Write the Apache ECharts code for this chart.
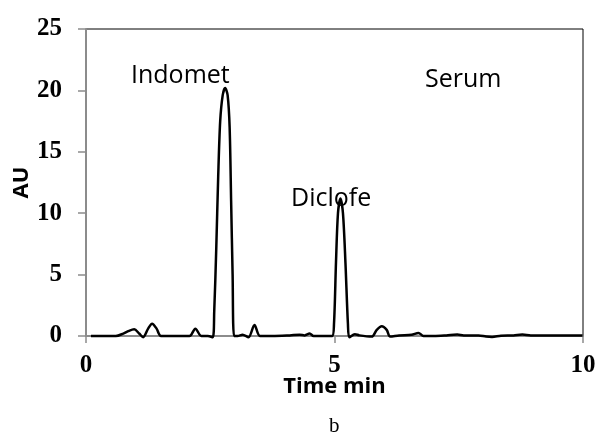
<!DOCTYPE html>
<html>
<head>
<meta charset="UTF-8">
<script src="https://cdn.jsdelivr.net/npm/echarts@6/dist/echarts.min.js"></script>
<title></title>
<style>
  html, body { margin: 0; padding: 0; background: #fff; }
</style>
</head>
<body>
<div id="main" style="width:600px;height:437px;"></div>
<script>
// retention time (min) and detector response (AU)
var times = [0.1, 0.6, 0.75, 0.85, 0.97, 1.07, 1.15, 1.25, 1.33, 1.42, 1.51,
  2.08, 2.2, 2.32, 2.45, 2.55, 2.58, 2.62, 2.66, 2.7, 2.75, 2.8, 2.85, 2.89, 2.92, 2.95, 2.98,
  3.05, 3.15, 3.27, 3.39, 3.5, 3.75, 4.1, 4.3, 4.4, 4.5, 4.58, 4.95,
  4.99, 5.03, 5.07, 5.12, 5.17, 5.22, 5.27, 5.3,
  5.41, 5.5, 5.75, 5.85, 5.95, 6.05, 6.12, 6.3, 6.55, 6.69, 6.79, 7.0,
  7.25, 7.47, 7.6, 7.9, 8.05, 8.17, 8.35, 8.6, 8.78, 8.95, 9.5, 9.99];
var absorb = [0, 0, 0.2, 0.4, 0.55, 0.2, -0.1, 0.6, 1.0, 0.6, 0,
  0, 0.6, 0, 0, -0.1, 2, 7, 13, 17.5, 19.6, 20.2, 19.6, 17, 11, 5, 0,
  0, 0.1, -0.1, 0.9, 0, 0, 0.05, 0.1, 0.05, 0.2, 0, 0,
  1, 6, 10, 11.2, 10, 6, 1, -0.1,
  0.15, 0.05, -0.05, 0.5, 0.8, 0.5, -0.05, 0.05, 0.1, 0.25, 0, 0,
  0.05, 0.12, 0.05, 0.05, -0.05, -0.08, 0.03, 0.05, 0.12, 0.05, 0.05, 0.05];

var peakNames = ['Indomet', 'Diclofe', 'Serum'];

var chart = echarts.init(document.getElementById('main'));

var pts = [];
for (var i = 0; i < times.length; i++) {
  pts.push([times[i], absorb[i]]);
}

var tickFont = { fontFamily: 'Liberation Serif', fontWeight: 'bold', fontSize: 25, color: '#000' };
var nameFont = { fontFamily: 'Open Sans', fontWeight: 'bold', color: '#000' };

chart.setOption({
  animation: false,
  grid: {
    left: 86, right: 17, top: 29, bottom: 101,
    outerBoundsMode: 'none',
    show: true, borderColor: '#000', borderWidth: 1, backgroundColor: 'transparent'
  },
  xAxis: {
    type: 'value', min: 0, max: 10, interval: 5,
    name: 'Time min', nameLocation: 'middle', nameGap: 40,
    nameMoveOverlap: false,
    nameTextStyle: Object.assign({ fontSize: 22 }, nameFont),
    axisLine: { show: true, lineStyle: { color: '#8c8c8c', width: 2 } },
    axisTick: { show: true, inside: false, length: 7, lineStyle: { color: '#8c8c8c', width: 1.5 } },
    axisLabel: Object.assign({ margin: 17 }, tickFont),
    splitLine: { show: false }
  },
  yAxis: {
    type: 'value', min: 0, max: 25, interval: 5,
    name: 'AU', nameLocation: 'middle', nameGap: 53,
    nameMoveOverlap: false,
    nameTextStyle: Object.assign({ fontSize: 22 }, nameFont),
    axisLine: { show: true, lineStyle: { color: '#8c8c8c', width: 2 } },
    axisTick: { show: true, inside: false, length: 8, lineStyle: { color: '#8c8c8c', width: 1.5 } },
    axisLabel: Object.assign({ margin: 24 }, tickFont),
    splitLine: { show: false }
  },
  series: [{
    type: 'line',
    data: pts,
    smooth: 0.3,
    symbol: 'none',
    clip: false,
    lineStyle: { color: '#000', width: 2.5 }
  }],
  graphic: [
    { type: 'text', left: 131, top: 63, style: { text: peakNames[0], font: '25px "Open Sans"', fill: '#000' } },
    { type: 'text', left: 291, top: 186, style: { text: peakNames[1], font: '25px "Open Sans"', fill: '#000' } },
    { type: 'text', left: 425, top: 67, style: { text: peakNames[2], font: '25px "Open Sans"', fill: '#000' } },
    { type: 'text', left: 329, top: 416, style: { text: 'b', font: '21px "Liberation Serif"', fill: '#000' } }
  ]
});
</script>
</body>
</html>
